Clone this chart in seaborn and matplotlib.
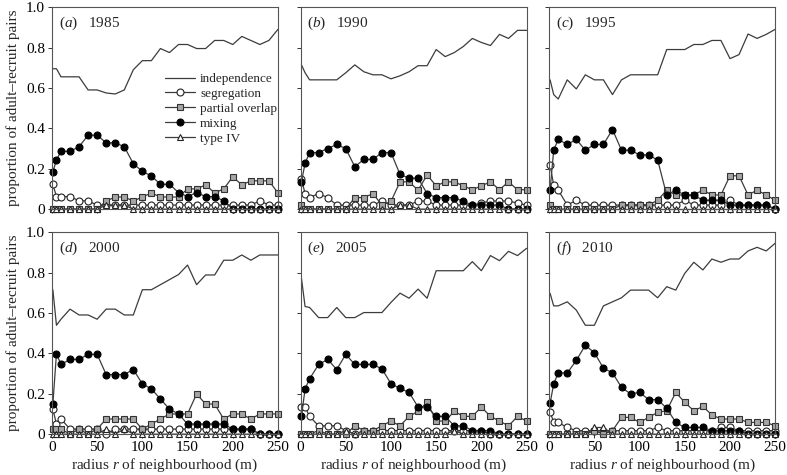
import numpy as np
import pandas as pd
import matplotlib
matplotlib.use("Agg")
import matplotlib.pyplot as plt
import seaborn as sns

# radius of neighbourhood (m)
radius = [1, 5, 10, 20, 30, 40, 50, 60, 70, 80, 90, 100, 110, 120, 130,
          140, 150, 160, 170, 180, 190, 200, 210, 220, 230, 240, 250]

# %% 1985
indep_1985 = [0.695, 0.695, 0.655, 0.655, 0.655, 0.59, 0.59, 0.575, 0.57, 0.59, 0.69, 0.735, 0.735, 0.795,
              0.775, 0.815, 0.815, 0.795, 0.795, 0.835, 0.835, 0.815, 0.855, 0.835, 0.815, 0.835, 0.89]
seg_1985 = [0.123, 0.062, 0.062, 0.062, 0.041, 0.041, 0.02, 0.02, 0.02, 0.02, 0.02, 0.02, 0.02, 0.02,
            0.02, 0.02, 0.02, 0.02, 0.02, 0.02, 0.02, 0.02, 0.02, 0.02, 0.041, 0.02, 0.02]
part_1985 = [0, 0, 0, 0, 0, 0, 0, 0.04, 0.06, 0.06, 0.04, 0.06, 0.08, 0.06,
             0.06, 0.06, 0.10, 0.10, 0.12, 0.08, 0.10, 0.16, 0.12, 0.14, 0.14, 0.14, 0.08]
mix_1985 = [0.184, 0.243, 0.286, 0.286, 0.309, 0.366, 0.366, 0.328, 0.328, 0.309, 0.225, 0.187, 0.164, 0.123,
            0.123, 0.082, 0.062, 0.082, 0.062, 0.062, 0.041, 0, 0, 0, 0, 0, 0]
type4_1985 = [0, 0, 0, 0, 0, 0, 0, 0.02, 0.02, 0.02, 0, 0, 0, 0,
              0, 0, 0, 0, 0, 0, 0, 0, 0, 0, 0, 0, 0]

# %% 1990
indep_1990 = [0.714, 0.675, 0.64, 0.64, 0.64, 0.64, 0.675, 0.714, 0.68, 0.665, 0.665, 0.645, 0.66, 0.68,
              0.71, 0.71, 0.79, 0.755, 0.775, 0.805, 0.845, 0.825, 0.81, 0.865, 0.845, 0.885, 0.885]
seg_1990 = [0.148, 0.077, 0.057, 0.077, 0.057, 0.02, 0.02, 0.02, 0.02, 0.02, 0.04, 0.02, 0.02, 0.02,
            0.04, 0.04, 0.02, 0.02, 0.02, 0.02, 0.02, 0.03, 0.04, 0.04, 0.04, 0.03, 0.02]
part_1990 = [0.02, 0, 0, 0, 0, 0, 0, 0.057, 0.057, 0.077, 0.02, 0.038, 0.135, 0.135,
             0.094, 0.169, 0.115, 0.135, 0.135, 0.115, 0.096, 0.115, 0.135, 0.096, 0.135, 0.096, 0.096]
mix_1990 = [0.135, 0.227, 0.28, 0.28, 0.30, 0.32, 0.30, 0.21, 0.246, 0.246, 0.28, 0.28, 0.172, 0.153,
            0.153, 0.077, 0.057, 0.057, 0.057, 0.038, 0.02, 0.02, 0.02, 0.02, 0, 0, 0]
type4_1990 = [0, 0, 0, 0, 0, 0, 0, 0, 0, 0, 0, 0, 0.02, 0.02,
              0, 0, 0, 0, 0, 0, 0, 0, 0, 0, 0, 0, 0]

# %% 1995
indep_1995 = [0.64, 0.567, 0.545, 0.64, 0.595, 0.665, 0.64, 0.64, 0.567, 0.64, 0.665, 0.665, 0.665, 0.665,
              0.79, 0.79, 0.79, 0.815, 0.815, 0.835, 0.835, 0.745, 0.765, 0.867, 0.845, 0.865, 0.89]
seg_1995 = [0.218, 0.118, 0.094, 0.02, 0.044, 0.02, 0.02, 0.02, 0.02, 0.02, 0.02, 0.02, 0.02, 0.02,
            0.02, 0.02, 0.044, 0.02, 0.02, 0.02, 0.02, 0.044, 0.02, 0.02, 0.02, 0.02, 0]
part_1995 = [0.02, 0, 0, 0, 0, 0, 0, 0, 0, 0.02, 0.02, 0.02, 0.02, 0.044,
             0.094, 0.07, 0.07, 0.07, 0.094, 0.07, 0.07, 0.165, 0.165, 0.07, 0.094, 0.07, 0.044]
mix_1995 = [0.094, 0.292, 0.345, 0.32, 0.345, 0.292, 0.32, 0.32, 0.394, 0.292, 0.292, 0.268, 0.268, 0.243,
            0.069, 0.094, 0.069, 0.069, 0.044, 0.044, 0.044, 0.02, 0.02, 0.02, 0.02, 0.02, 0]
type4_1995 = [0] * 27

# %% 2000
indep_2000 = [0.715, 0.539, 0.569, 0.619, 0.59, 0.59, 0.569, 0.619, 0.619, 0.59, 0.59, 0.715, 0.715, 0.74,
              0.765, 0.79, 0.837, 0.74, 0.788, 0.788, 0.861, 0.861, 0.887, 0.861, 0.887, 0.887, 0.887]
seg_2000 = [0.124, 0.05, 0.075, 0.025, 0.025, 0.025, 0.025, 0, 0.025, 0.025, 0.025, 0.025, 0.025, 0.025,
            0.025, 0.025, 0.025, 0.025, 0.025, 0.025, 0.025, 0.025, 0.025, 0.025, 0, 0, 0]
part_2000 = [0.025, 0.025, 0.025, 0, 0.025, 0, 0.025, 0.075, 0.075, 0.075, 0.075, 0.025, 0.05, 0.075,
             0.1, 0.1, 0.1, 0.199, 0.149, 0.149, 0.075, 0.1, 0.1, 0.075, 0.1, 0.1, 0.1]
mix_2000 = [0.149, 0.398, 0.345, 0.37, 0.37, 0.395, 0.395, 0.295, 0.295, 0.295, 0.32, 0.249, 0.224, 0.174,
            0.124, 0.1, 0.05, 0.05, 0.05, 0.05, 0.05, 0.025, 0.025, 0.025, 0, 0, 0]
type4_2000 = [0, 0, 0, 0, 0, 0, 0, 0.025, 0, 0.025, 0, 0, 0, 0,
              0, 0, 0, 0, 0, 0, 0, 0, 0, 0, 0, 0, 0]

# %% 2005
indep_2005 = [0.771, 0.632, 0.627, 0.577, 0.577, 0.627, 0.577, 0.577, 0.602, 0.602, 0.602, 0.652, 0.698, 0.673,
              0.718, 0.673, 0.809, 0.809, 0.809, 0.809, 0.854, 0.809, 0.884, 0.859, 0.905, 0.884, 0.92]
seg_2005 = [0.134, 0.134, 0.088, 0.041, 0.041, 0.041, 0.018, 0, 0.018, 0.018, 0.018, 0.018, 0.018, 0.018,
            0.018, 0.018, 0.018, 0.018, 0.018, 0.018, 0.018, 0.018, 0, 0, 0, 0, 0]
part_2005 = [0, 0, 0, 0.018, 0, 0, 0, 0.041, 0.018, 0.018, 0.041, 0.065, 0.041, 0.088,
             0.113, 0.159, 0.065, 0.065, 0.113, 0.088, 0.088, 0.134, 0.088, 0.065, 0.041, 0.088, 0.065]
mix_2005 = [0.088, 0.224, 0.274, 0.345, 0.37, 0.32, 0.395, 0.345, 0.345, 0.345, 0.323, 0.25, 0.226, 0.207,
            0.134, 0.134, 0.088, 0.088, 0.041, 0.041, 0.018, 0.018, 0.018, 0, 0, 0, 0]
type4_2005 = [0, 0, 0, 0, 0, 0, 0.018, 0, 0, 0, 0, 0, 0, 0,
              0, 0, 0, 0, 0.018, 0, 0, 0, 0, 0, 0, 0, 0]

# %% 2010
indep_2010 = [0.697, 0.635, 0.635, 0.655, 0.614, 0.539, 0.539, 0.635, 0.655, 0.675, 0.713, 0.713, 0.713, 0.675,
              0.73, 0.713, 0.796, 0.851, 0.813, 0.867, 0.851, 0.867, 0.867, 0.907, 0.925, 0.907, 0.945]
seg_2010 = [0.111, 0.058, 0.058, 0.033, 0.017, 0.017, 0.017, 0.017, 0.017, 0.017, 0.017, 0.017, 0.017, 0.033,
            0.017, 0.017, 0.017, 0.017, 0.017, 0.017, 0.033, 0.033, 0.017, 0.017, 0.017, 0.017, 0.017]
part_2010 = [0, 0, 0, 0, 0, 0, 0.017, 0, 0.017, 0.083, 0.083, 0.058, 0.083, 0.108,
             0.116, 0.207, 0.157, 0.116, 0.137, 0.095, 0.075, 0.075, 0.075, 0.058, 0.058, 0.058, 0.041]
mix_2010 = [0.153, 0.249, 0.303, 0.303, 0.365, 0.44, 0.403, 0.327, 0.303, 0.232, 0.199, 0.207, 0.171, 0.171,
            0.128, 0.058, 0.033, 0.033, 0.033, 0.017, 0.017, 0.017, 0.017, 0, 0, 0, 0]
type4_2010 = [0, 0, 0, 0, 0, 0, 0.033, 0.033, 0, 0, 0, 0, 0, 0,
              0, 0, 0, 0, 0, 0, 0, 0, 0, 0, 0, 0, 0]

years = [1985, 1990, 1995, 2000, 2005, 2010]
letters = ["a", "b", "c", "d", "e", "f"]
patterns = ["independence", "segregation", "partial overlap", "mixing", "type IV"]

series = {
    1985: [indep_1985, seg_1985, part_1985, mix_1985, type4_1985],
    1990: [indep_1990, seg_1990, part_1990, mix_1990, type4_1990],
    1995: [indep_1995, seg_1995, part_1995, mix_1995, type4_1995],
    2000: [indep_2000, seg_2000, part_2000, mix_2000, type4_2000],
    2005: [indep_2005, seg_2005, part_2005, mix_2005, type4_2005],
    2010: [indep_2010, seg_2010, part_2010, mix_2010, type4_2010],
}

rows = []
for yr in years:
    for pat, vals in zip(patterns, series[yr]):
        for r, v in zip(radius, vals):
            rows.append({"year": yr, "pattern": pat, "radius": r, "prop": v})
veri = pd.DataFrame(rows)

# %% style
sns.set_style("ticks")
plt.rcParams["font.family"] = ["Liberation Serif", "DejaVu Serif"]
plt.rcParams["mathtext.fontset"] = "custom"
plt.rcParams["mathtext.rm"] = "Liberation Serif"
plt.rcParams["mathtext.it"] = "Liberation Serif:italic"

lc = "#3c3c3c"
stil = {
    "independence": dict(marker=None),
    "segregation": dict(marker="o", markerfacecolor="white", markeredgecolor="#222222", markersize=5.0),
    "partial overlap": dict(marker="s", markerfacecolor="#a6a6a6", markeredgecolor="#333333", markersize=4.8),
    "mixing": dict(marker="o", markerfacecolor="black", markeredgecolor="black", markersize=5.0),
    "type IV": dict(marker="^", markerfacecolor="white", markeredgecolor="#222222", markersize=4.8),
}

fig, axes = plt.subplots(2, 3, figsize=(7.87, 4.75), dpi=100, sharex=True, sharey=True)
fig.subplots_adjust(left=0.066, right=0.985, bottom=0.086, top=0.985, wspace=0.1, hspace=0.114)

for i, (yr, ax) in enumerate(zip(years, axes.flat)):
    d = veri[veri["year"] == yr]
    for pat in patterns:
        sub = d[d["pattern"] == pat]
        kw = dict(stil[pat])
        if i == 0:
            kw["label"] = pat
        sns.lineplot(data=sub, x="radius", y="prop", ax=ax, color=lc, linewidth=0.9,
                     markeredgewidth=0.8, clip_on=False, legend=False, **kw)
    ax.set_xlim(0, 250)
    ax.set_ylim(0, 1.0)
    ax.set_xticks([0, 50, 100, 150, 200, 250])
    ax.set_yticks([0, 0.2, 0.4, 0.6, 0.8, 1.0])
    ax.set_yticklabels(["0", "0.2", "0.4", "0.6", "0.8", "1.0"])
    ax.tick_params(direction="out", length=3, width=0.7, labelsize=11, pad=2, colors="#333333",
                   labelcolor="black")
    for s in ax.spines.values():
        s.set_color("#555555")
        s.set_linewidth(0.8)
    ax.set_xlabel("")
    ax.set_ylabel("")
    ax.text(0.03, 0.965, "(" + r"$\it{" + letters[i] + "}$" + ")   " + str(yr),
            transform=ax.transAxes, ha="left", va="top", fontsize=11)

for ax in axes[:, 0]:
    ax.set_ylabel("proportion of adult\u2013recruit pairs", fontsize=11, labelpad=4)
for ax in axes[1, :]:
    ax.set_xlabel(r"radius $\it{r}$ of neighbourhood (m)", fontsize=11, labelpad=2)

axes[0, 0].legend(loc="upper right", bbox_to_anchor=(1.02, 0.70), frameon=False, fontsize=9.5,
                  handlelength=2.3, handletextpad=0.4, labelspacing=0.2, borderaxespad=0)

plt.savefig("out.png", dpi=100)
